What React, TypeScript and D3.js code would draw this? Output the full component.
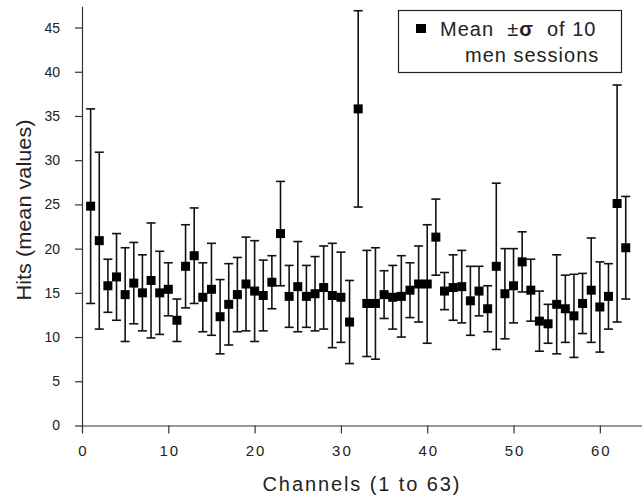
import * as d3 from 'd3';
import React, { useRef, useEffect } from 'react';

// mean hits per channel (1..63)
const means = [
  24.8, 20.9, 15.8, 16.8, 14.8, 16.1, 15.0, 16.4, 15.0, 15.4,
  11.9, 18.0, 19.2, 14.5, 15.4, 12.3, 13.7, 14.8, 16.0, 15.2,
  14.7, 16.2, 21.7, 14.6, 15.7, 14.6, 14.9, 15.6, 14.7, 14.5,
  11.7, 35.8, 13.8, 13.8, 14.8, 14.5, 14.6, 15.3, 16.0, 16.0,
  21.3, 15.2, 15.6, 15.7, 14.1, 15.2, 13.2, 18.0, 14.9, 15.8,
  18.5, 15.3, 11.8, 11.5, 13.7, 13.2, 12.4, 13.8, 15.3, 13.4,
  14.6, 25.1, 20.1
];

// standard deviation per channel
const sigmas = [
  11.0, 10.0, 3.0, 4.9, 5.3, 4.6, 4.3, 6.5, 4.7, 3.0,
  2.4, 4.7, 5.4, 3.9, 5.2, 4.2, 4.6, 4.2, 5.3, 5.7,
  4.0, 3.0, 5.9, 3.5, 5.1, 3.5, 4.2, 4.7, 5.9, 5.1,
  4.7, 11.1, 6.0, 6.3, 2.7, 3.6, 4.6, 3.1, 4.3, 6.7,
  4.3, 2.1, 3.7, 4.1, 3.9, 2.8, 2.6, 9.4, 5.1, 4.2,
  3.4, 3.5, 3.4, 2.2, 5.6, 3.8, 4.7, 3.4, 5.9, 5.1,
  3.7, 13.4, 5.8
];

const channels = means.map((_, i) => i + 1);

const xMajor = [0, 10, 20, 30, 40, 50, 60];
const xMinor = [5, 15, 25, 35, 45, 55];
const yMajor = [0, 5, 10, 15, 20, 25, 30, 35, 40, 45];
const yMinor = [2.5, 7.5, 12.5, 17.5, 22.5, 27.5, 32.5, 37.5, 42.5];

const xTitle = 'Channels (1 to 63)';
const yTitle = 'Hits (mean values)';

function ErrorChart({ width, height }: { width: number; height: number }) {
  const ref = useRef<SVGSVGElement>(null);

  useEffect(() => {
    const svg = d3.select(ref.current);
    svg.selectAll('*').remove();

    const x = d3.scaleLinear().domain([0, 65]).range([82, 643]);
    const y = d3.scaleLinear().domain([0, 47.4]).range([425.5, 6.3]);

    const font = "'Liberation Sans', Arial, sans-serif";
    const ink = '#222';

    // x axis
    const gx = svg.append('g').attr('transform', `translate(0,${y(0)})`);
    gx.call(d3.axisBottom(x).tickValues(xMinor).tickSize(4).tickFormat(() => '').tickSizeOuter(0));
    gx.call(d3.axisBottom(x).tickValues(xMajor).tickSize(8).tickPadding(12).tickFormat(d3.format('d')).tickSizeOuter(0));
    gx.selectAll('text').attr('font-family', font).attr('font-size', 15).attr('fill', ink)
      .attr('dx', 1).style('letter-spacing', '2px');

    // y axis
    const gy = svg.append('g').attr('transform', `translate(${x(0)},0)`);
    gy.call(d3.axisLeft(y).tickValues(yMinor).tickSize(3).tickFormat(() => '').tickSizeOuter(0));
    gy.call(d3.axisLeft(y).tickValues(yMajor).tickSize(7).tickPadding(15).tickFormat(d3.format('d')).tickSizeOuter(0));
    gy.selectAll('text').attr('font-family', font).attr('font-size', 14).attr('fill', ink);

    svg.selectAll('.domain').attr('stroke', '#333').attr('stroke-width', 1.2);
    svg.selectAll('.tick line').attr('stroke', '#333').attr('stroke-width', 1.2);

    // error bars
    const bars = svg.append('g').attr('stroke', '#111').attr('stroke-width', 1.6);
    channels.forEach((c, i) => {
      const cx = x(c);
      const top = y(means[i] + sigmas[i]);
      const bot = y(means[i] - sigmas[i]);
      bars.append('line').attr('x1', cx).attr('x2', cx).attr('y1', top).attr('y2', bot);
      bars.append('line').attr('x1', cx - 4.5).attr('x2', cx + 4.5).attr('y1', top).attr('y2', top);
      bars.append('line').attr('x1', cx - 4.5).attr('x2', cx + 4.5).attr('y1', bot).attr('y2', bot);
    });

    // mean markers
    svg.append('g').selectAll('rect')
      .data(channels)
      .enter()
      .append('rect')
      .attr('x', d => x(d) - 4.5)
      .attr('y', (d, i) => y(means[i]) - 4.5)
      .attr('width', 9)
      .attr('height', 9)
      .attr('fill', '#000');

    // axis titles
    svg.append('text')
      .attr('x', 262.5).attr('y', 491)
      .attr('font-family', font).attr('font-size', 20).attr('fill', ink)
      .attr('textLength', 197).attr('lengthAdjust', 'spacing')
      .text(xTitle);

    svg.append('text')
      .attr('transform', 'translate(31,210) rotate(-90)')
      .attr('text-anchor', 'middle')
      .attr('font-family', font).attr('font-size', 21).attr('fill', ink)
      .attr('textLength', 181).attr('lengthAdjust', 'spacingAndGlyphs')
      .text(yTitle);

    // legend
    const lg = svg.append('g');
    lg.append('rect')
      .attr('x', 398.5).attr('y', 10.5).attr('width', 223).attr('height', 62)
      .attr('fill', '#fff').attr('stroke', '#222').attr('stroke-width', 1.2);
    lg.append('rect')
      .attr('x', 416).attr('y', 24).attr('width', 10).attr('height', 9).attr('fill', '#000');
    const t1 = lg.append('text')
      .attr('x', 440).attr('y', 36)
      .attr('font-family', font).attr('font-size', 20).attr('fill', ink)
      .style('letter-spacing', '1px').style('white-space', 'pre');
    t1.append('tspan').text('Mean  \u00B1');
    t1.append('tspan').attr('font-weight', 'bold').text('\u03C3');
    t1.append('tspan').text('  of 10');
    lg.append('text')
      .attr('x', 465).attr('y', 62)
      .attr('font-family', font).attr('font-size', 20).attr('fill', ink)
      .style('letter-spacing', '1px')
      .text('men sessions');
  });

  return (
    <div className="chart">
      <svg ref={ref} width={width} height={height}
        style={{ position: 'absolute', left: 0, top: 0, background: '#fff' }}>
      </svg>
    </div>
  );
}

export default function App() {
  return <ErrorChart width={642} height={497} />;
}
